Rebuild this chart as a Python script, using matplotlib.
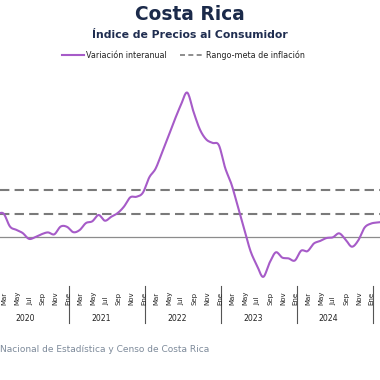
import matplotlib
matplotlib.use("Agg")
import matplotlib.pyplot as plt
from matplotlib.lines import Line2D
import numpy as np

# ---- data (monthly, starting Jan 2020) ----
years = ["2020", "2021", "2022", "2023", "2024", "2025"]
month_labels = ["Ene", "Mar", "May", "Jul", "Sep", "Nov"]
inflacion = [
    2.1, 2.0, 2.0, 0.9, 0.62, 0.35, -0.15, 0.0, 0.25, 0.4, 0.24, 0.9,      # 2020
    0.88, 0.42, 0.6, 1.2, 1.35, 1.89, 1.4, 1.74, 2.05, 2.6, 3.4, 3.45,     # 2021
    3.8, 5.1, 5.85, 7.2, 8.58, 10.0, 11.3, 12.35, 10.7, 9.2, 8.35, 8.05,   # 2022
    7.85, 5.9, 4.5, 2.6, 0.7, -1.2, -2.4, -3.4, -2.2, -1.3, -1.75, -1.82,  # 2023
    -2.0, -1.16, -1.2, -0.55, -0.33, -0.08, -0.02, 0.32, -0.2, -0.82, -0.3, 0.8,  # 2024
    1.15, 1.25, 1.3,                                                        # 2025
]
meta_inferior = 2.0
meta_superior = 4.0

W, H = 380, 380
DPI = 100
fig = plt.figure(figsize=(W / DPI, H / DPI), dpi=DPI)
fig.patch.set_facecolor("white")

# axes in pixel terms
x_a, x_b = -9.0, 6.33          # pixel x = x_a + x_b * month_index
y_top, y_bot = 73.3, 283.9      # pixel y of ylim top (14) and bottom (-4)
ax = fig.add_axes([0, 1 - y_bot / H, 1, (y_bot - y_top) / H])
ax.set_xlim((0 - x_a) / x_b, (W - x_a) / x_b)
ax.set_ylim(-4, 14)
ax.axis("off")

t = np.arange(len(inflacion))
# smooth curve (Catmull-Rom through monthly points)
def catmull(xs, ys, n=12):
    xs = np.asarray(xs, float); ys = np.asarray(ys, float)
    px = np.concatenate([[2 * xs[0] - xs[1]], xs, [2 * xs[-1] - xs[-2]]])
    py = np.concatenate([[2 * ys[0] - ys[1]], ys, [2 * ys[-1] - ys[-2]]])
    ox, oy = [], []
    for i in range(1, len(px) - 2):
        u = np.linspace(0, 1, n, endpoint=False)
        for arr, out in ((px, ox), (py, oy)):
            p0, p1, p2, p3 = arr[i - 1], arr[i], arr[i + 1], arr[i + 2]
            out.extend(0.5 * ((2 * p1) + (-p0 + p2) * u + (2 * p0 - 5 * p1 + 4 * p2 - p3) * u ** 2
                              + (-p0 + 3 * p1 - 3 * p2 + p3) * u ** 3))
    ox.append(xs[-1]); oy.append(ys[-1])
    return np.array(ox), np.array(oy)

sx, sy = catmull(t, inflacion)

ax.axhline(0, color="#8c8c8c", lw=0.9, zorder=1)
ax.axhline(meta_inferior, color="#7a7a7a", lw=1.5, ls=(0, (4.5, 2.5)), zorder=1)
ax.axhline(meta_superior, color="#7a7a7a", lw=1.5, ls=(0, (4.5, 2.5)), zorder=1)
ax.plot(sx, sy, color="#A65BC8", lw=1.5, solid_capstyle="round", zorder=3)

# ---- x axis labels (manual two-level category axis) ----
def ypx(p):
    return 1 - p / H

for i in range(len(inflacion)):
    if i % 2 == 0:
        lab = month_labels[(i % 12) // 2]
        xf = (x_a + x_b * i + 1.0) / W
        fig.text(xf, ypx(305), lab, rotation=90, ha="center", va="bottom",
                 fontsize=5.0, color="#222222", family="DejaVu Sans")

for k, yr in enumerate(years):
    xc = (x_a + x_b * (5.5 + 12 * k) - 1.0) / W
    fig.text(xc, ypx(318.5), yr, ha="center", va="center", fontsize=5.6,
             color="#222222", family="DejaVu Sans")
    xs = (x_a + x_b * (12.3 + 12 * k)) / W
    fig.add_artist(Line2D([xs, xs], [ypx(286), ypx(323)], color="#555555", lw=0.8))

# ---- titles ----
fig.text(0.5, ypx(14.5), "Costa Rica", ha="center", va="center", fontsize=13.4,
         fontweight="bold", color="#1B2A4A", family="DejaVu Sans")
fig.text(0.5, ypx(35.5), "Índice de Precios al Consumidor", ha="center", va="center",
         fontsize=7.8, fontweight="bold", color="#1F2D50", family="DejaVu Sans")

# ---- legend (manual) ----
fig.add_artist(Line2D([62 / W, 84 / W], [ypx(54.7)] * 2, color="#A65BC8", lw=1.5))
fig.text(86 / W, ypx(55), "Variación interanual", ha="left", va="center",
         fontsize=5.8, color="#222222", family="DejaVu Sans")
fig.add_artist(Line2D([180 / W, 203 / W], [ypx(54.7)] * 2, color="#7a7a7a", lw=1.2,
                      ls=(0, (3, 2))))
fig.text(206 / W, ypx(55), "Rango-meta de inflación", ha="left", va="center",
         fontsize=5.8, color="#222222", family="DejaVu Sans")

# ---- source ----
fig.text(0 / W, ypx(349.5), "Nacional de Estadística y Censo de Costa Rica", ha="left",
         va="center", fontsize=6.5, color="#7D8A9A", family="DejaVu Sans")

fig.savefig("out.png", dpi=DPI, facecolor="white")
